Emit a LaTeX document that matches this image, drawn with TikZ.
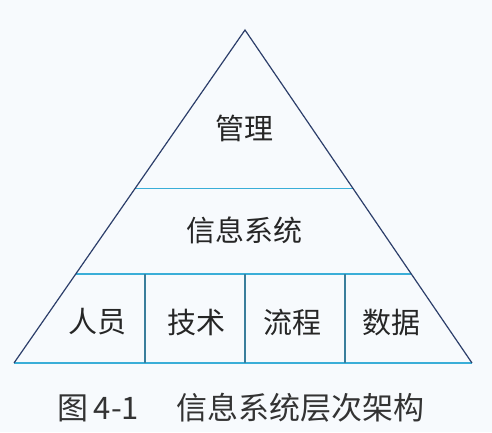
\documentclass[tikz,border=0pt]{standalone}
\usepackage{fontspec}
\newfontfamily\cjk{Noto Sans CJK SC}
\usetikzlibrary{calc}

\begin{document}
\begin{tikzpicture}[x=1pt, y=-1pt]
  % Define colors
  \definecolor{paper}{HTML}{F7FAFD}
  \definecolor{slopecolor}{HTML}{2C3E6A}
  \definecolor{layercolor}{HTML}{3AAED8}
  \definecolor{cellcolor}{HTML}{3A7E9C}
  \tikzset{
    label/.style={font=\cjk\fontsize{29}{29}\selectfont, text=black!85, inner sep=0pt},
    caption/.style={font=\cjk\fontsize{31}{31}\selectfont, text=black!80, inner sep=0pt}
  }

  % Background and size
  \fill[paper] (0,0) rectangle (492,432);
  \useasboundingbox (0,0) rectangle (492,432);

  % Pyramid corners
  \coordinate (apex) at (245,30);
  \coordinate (bl) at (14,363);
  \coordinate (br) at (472,363);

  % Layer boundaries on the slopes
  \coordinate (l1) at ($(apex)!0.477!(bl)$);
  \coordinate (r1) at ($(apex)!0.477!(br)$);
  \coordinate (l2) at ($(apex)!0.733!(bl)$);
  \coordinate (r2) at ($(apex)!0.733!(br)$);

  % Cell dividers
  \coordinate (c1t) at (145,274);
  \coordinate (c1b) at (145,363);
  \coordinate (c2t) at (245,274);
  \coordinate (c2b) at (245,363);
  \coordinate (c3t) at (345,274);
  \coordinate (c3b) at (345,363);

  % Horizontal layers
  \draw[layercolor, line width=1.3pt] (l1) -- (r1);
  \draw[layercolor, line width=1.3pt] (l2) -- (r2);
  \draw[layercolor, line width=1.3pt] (bl) -- (br);

  % Vertical dividers
  \draw[cellcolor, line width=1.2pt] (c1t) -- (c1b);
  \draw[cellcolor, line width=1.2pt] (c2t) -- (c2b);
  \draw[cellcolor, line width=1.2pt] (c3t) -- (c3b);

  % Slopes
  \draw[slopecolor, line width=1.2pt, line join=miter] (bl) -- (apex) -- (br);

  % Labels
  \node[label] (mgmt) at (244,128) {管理};
  \node[label] (infosys) at (244,230) {信息系统};
  \node[label] (people) at (97,322) {人员};
  \node[label] (tech) at (196,322) {技术};
  \node[label] (process) at (292,322) {流程};
  \node[label] (data) at (391,322) {数据};

  \node[caption] (cap) at (241,408) {图\,4-1\hspace{1.2em}信息系统层次架构};
\end{tikzpicture}
\end{document}
